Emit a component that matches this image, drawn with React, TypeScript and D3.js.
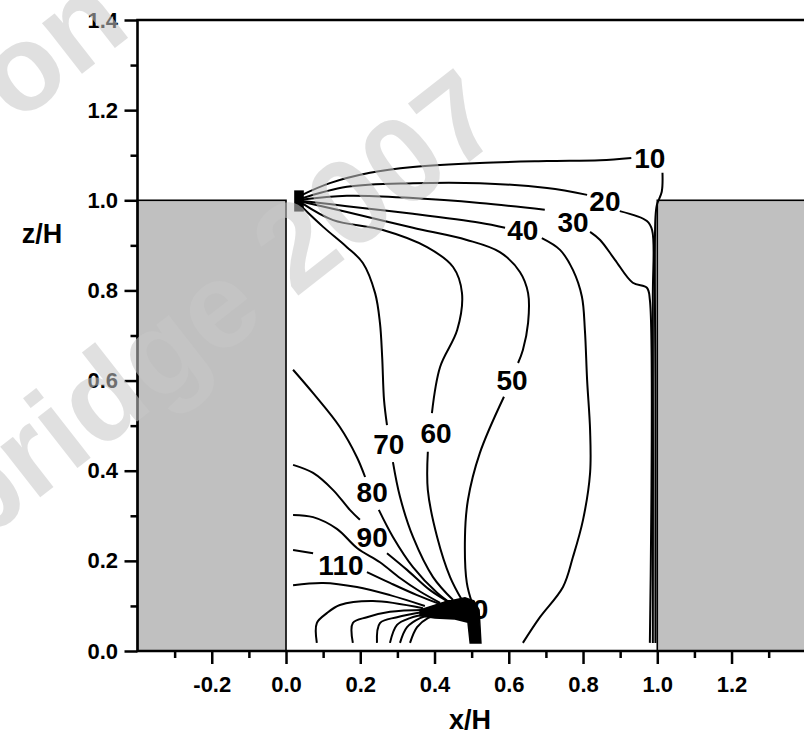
import React, { useEffect, useRef } from "react";
import * as d3 from "d3";

const W = 804;
const H = 736;

// axis ticks
const xMajor = [-0.2, 0, 0.2, 0.4, 0.6, 0.8, 1.0, 1.2];
const xMinor = [-0.3, -0.1, 0.1, 0.3, 0.5, 0.7, 0.9, 1.1, 1.3];
const yMajor = [0, 0.2, 0.4, 0.6, 0.8, 1.0, 1.2, 1.4];
const yMinor = [0.1, 0.3, 0.5, 0.7, 0.9, 1.1, 1.3];

// buildings either side of the canyon (x/H, height z/H)
const buildings = [
  { x0: -0.4, x1: 0, h: 1 },
  { x0: 1.0, x1: 1.4, h: 1 },
];

// iso-concentration lines, [x/H, z/H]; null = gap where the label sits
type P = [number, number] | null;
const c10: P[] = [[0.038, 1.010], [0.118, 1.038], [0.226, 1.061], [0.342, 1.074], [0.522, 1.083], [0.703, 1.087], [0.846, 1.089], [0.930, 1.094], null,
  [1.014, 1.061], [1.012, 1.019], [0.999, 0.990], [0.995, 0.961], [0.995, 0.557], [0.995, 0.018]];
const c20: P[] = [[0.038, 1.003], [0.164, 1.030], [0.342, 1.038], [0.522, 1.038], [0.703, 1.027], [0.811, 1.012], null,
  [0.899, 0.976], [0.972, 0.954], [0.986, 0.934], [0.988, 0.779], [0.988, 0.018]];
const c30: P[] = [[0.038, 1.001], [0.164, 1.010], [0.342, 1.005], [0.522, 0.994], [0.697, 0.979], null,
  [0.819, 0.930], [0.846, 0.912], [0.886, 0.868], [0.934, 0.817], [0.972, 0.806], [0.980, 0.779], [0.980, 0.018]];
const c40: P[] = [[0.038, 0.999], [0.164, 0.987], [0.342, 0.970], [0.522, 0.950], [0.590, 0.939], null,
  [0.689, 0.916], [0.738, 0.890], [0.773, 0.845], [0.797, 0.786], [0.805, 0.712], [0.811, 0.601], [0.819, 0.490],
  [0.819, 0.395], [0.800, 0.291], [0.773, 0.209], [0.746, 0.142], [0.684, 0.075], [0.638, 0.018]];
const c50: P[] = [[0.046, 0.996], [0.164, 0.974], [0.342, 0.939], [0.487, 0.912], [0.576, 0.885], [0.630, 0.841], [0.652, 0.794],
  [0.652, 0.728], [0.638, 0.668], [0.625, 0.639], null,
  [0.587, 0.564], [0.522, 0.439], [0.490, 0.335], [0.482, 0.253], [0.487, 0.151], [0.501, 0.107]];
const c60: P[] = [[0.046, 0.992], [0.127, 0.956], [0.261, 0.934], [0.380, 0.896], [0.450, 0.852], [0.474, 0.794], [0.461, 0.712],
  [0.415, 0.630], [0.393, 0.528], null,
  [0.382, 0.442], [0.382, 0.357], [0.407, 0.253], [0.442, 0.164], [0.474, 0.113]];
const c70: P[] = [[0.043, 0.985], [0.100, 0.941], [0.164, 0.896], [0.207, 0.861], [0.240, 0.794], [0.253, 0.728], [0.259, 0.652],
  [0.264, 0.557], [0.272, 0.501], null,
  [0.288, 0.419], [0.307, 0.342], [0.342, 0.253], [0.396, 0.164], [0.450, 0.113]];
const c80: P[] = [[0.019, 0.624], [0.073, 0.572], [0.145, 0.497], [0.191, 0.430], [0.213, 0.386], null,
  [0.250, 0.313], [0.288, 0.253], [0.342, 0.186], [0.407, 0.129], [0.450, 0.102]];
const c90: P[] = [[0.019, 0.413], [0.073, 0.395], [0.127, 0.357], [0.172, 0.313], [0.199, 0.291], null,
  [0.272, 0.217], [0.326, 0.180], [0.388, 0.135], [0.442, 0.107]];
const c100: P[] = [[0.019, 0.302], [0.073, 0.297], [0.137, 0.271], [0.192, 0.228], [0.253, 0.197], [0.307, 0.162], [0.361, 0.132], [0.415, 0.107]];
const c110: P[] = [[0.019, 0.224], [0.073, 0.217], null, [0.218, 0.175], [0.280, 0.151], [0.353, 0.124], [0.415, 0.104]];
const c120: P[] = [[0.019, 0.146], [0.100, 0.151], [0.191, 0.142], [0.280, 0.124], [0.374, 0.100]];
const a1: P[] = [[0.083, 0.018], [0.083, 0.062], [0.110, 0.084], [0.145, 0.102], [0.234, 0.111], [0.369, 0.095]];
const a2: P[] = [[0.180, 0.018], [0.180, 0.062], [0.218, 0.075], [0.280, 0.087], [0.374, 0.091]];
const a3: P[] = [[0.245, 0.018], [0.253, 0.062], [0.299, 0.075], [0.374, 0.087]];
const a4: P[] = [[0.280, 0.018], [0.299, 0.058], [0.334, 0.073], [0.380, 0.082]];
const a5: P[] = [[0.307, 0.018], [0.326, 0.053], [0.361, 0.073], [0.388, 0.080]];
const a6: P[] = [[0.334, 0.018], [0.353, 0.053], [0.382, 0.073], [0.401, 0.078]];
const contours = [c10, c20, c30, c40, c50, c60, c70, c80, c90, c100, c110, c120, a1, a2, a3, a4, a5, a6];

// dense lines round the ground-level source, drawn as one black patch
const groundSource: [number, number][] = [[0.361, 0.091], [0.428, 0.109], [0.482, 0.118], [0.506, 0.111], [0.520, 0.091], [0.525, 0.018],
  [0.496, 0.018], [0.490, 0.064], [0.455, 0.071], [0.401, 0.073], [0.361, 0.078]];
// dense lines at the roof corner
const roofSource = { x0: 0.022, x1: 0.048, z0: 0.975, z1: 1.022 };

const labels = [
  { t: "10", x: 0.980, z: 1.094 },
  { t: "20", x: 0.859, z: 0.998 },
  { t: "30", x: 0.773, z: 0.952 },
  { t: "40", x: 0.638, z: 0.934 },
  { t: "50", x: 0.609, z: 0.601 },
  { t: "60", x: 0.404, z: 0.484 },
  { t: "70", x: 0.277, z: 0.459 },
  { t: "80", x: 0.232, z: 0.353 },
  { t: "90", x: 0.232, z: 0.253 },
  { t: "110", x: 0.148, z: 0.191 },
  { t: "200", x: 0.482, z: 0.093 },
];

const FONT = "'Liberation Sans', Arial, sans-serif";

export default function App() {
  const ref = useRef<SVGSVGElement>(null);

  useEffect(() => {
    document.body.style.margin = "0";
    const svg = d3.select(ref.current);
    svg.selectAll("*").remove();

    const x = d3.scaleLinear().domain([-0.4, 1.4]).range([137.5, 805.8]);
    const y = d3.scaleLinear().domain([0, 1.4]).range([651, 20]);

    svg.append("rect").attr("width", W).attr("height", H).attr("fill", "#fff");

    svg.append("defs").append("clipPath").attr("id", "plotClip")
      .append("rect")
      .attr("x", x(-0.4)).attr("y", y(1.4))
      .attr("width", x(1.4) - x(-0.4)).attr("height", y(0) - y(1.4));

    // buildings
    svg.selectAll(".bld")
      .data(buildings)
      .enter()
      .append("rect")
      .attr("class", "bld")
      .attr("x", d => x(d.x0))
      .attr("y", d => y(d.h))
      .attr("width", d => x(d.x1) - x(d.x0))
      .attr("height", d => y(0) - y(d.h))
      .attr("fill", "#c0c0c0")
      .attr("stroke", "#000")
      .attr("stroke-width", 1.6);

    const plot = svg.append("g").attr("clip-path", "url(#plotClip)");

    const line = d3.line<P>()
      .defined(d => d !== null)
      .x(d => x(d![0]))
      .y(d => y(d![1]))
      .curve(d3.curveCatmullRom.alpha(0.5));

    plot.selectAll(".iso")
      .data(contours)
      .enter()
      .append("path")
      .attr("class", "iso")
      .attr("d", d => line(d))
      .attr("fill", "none")
      .attr("stroke", "#000")
      .attr("stroke-width", 2)
      .attr("stroke-linejoin", "round");

    plot.append("path")
      .attr("d", d3.line<[number, number]>().x(d => x(d[0])).y(d => y(d[1]))(groundSource) + "Z")
      .attr("fill", "#000")
      .attr("stroke", "#000")
      .attr("stroke-width", 1.5);

    plot.append("rect")
      .attr("x", x(roofSource.x0))
      .attr("y", y(roofSource.z1))
      .attr("width", x(roofSource.x1) - x(roofSource.x0))
      .attr("height", y(roofSource.z0) - y(roofSource.z1))
      .attr("fill", "#000");

    plot.selectAll(".lab")
      .data(labels)
      .enter()
      .append("text")
      .attr("class", "lab")
      .attr("x", d => x(d.x))
      .attr("y", d => y(d.z) + 10)
      .attr("text-anchor", "middle")
      .style("font-family", FONT)
      .style("font-weight", "bold")
      .style("font-size", "28px")
      .text(d => d.t);

    // axes
    const fmt = (d: d3.NumberValue) => (+d).toFixed(1);
    const styleAxis = (g: d3.Selection<SVGGElement, unknown, null, undefined>) => {
      g.select(".domain").remove();
      g.selectAll("line").attr("stroke", "#000").attr("stroke-width", 2.5);
      g.selectAll("text")
        .attr("fill", "#000")
        .style("font-family", FONT)
        .style("font-weight", "bold")
        .style("font-size", "22px");
    };

    svg.append("g")
      .attr("transform", `translate(${x(-0.4)},0)`)
      .call(d3.axisLeft(y).tickValues(yMajor).tickSize(13).tickPadding(6.5).tickFormat(fmt))
      .call(styleAxis);
    svg.append("g")
      .attr("transform", `translate(${x(-0.4)},0)`)
      .call(d3.axisLeft(y).tickValues(yMinor).tickSize(7).tickFormat(() => ""))
      .call(styleAxis);

    svg.append("g")
      .attr("transform", `translate(0,${y(0)})`)
      .call(d3.axisBottom(x).tickValues(xMajor).tickSize(13).tickPadding(12).tickFormat(fmt))
      .call(styleAxis);
    svg.append("g")
      .attr("transform", `translate(0,${y(0)})`)
      .call(d3.axisBottom(x).tickValues(xMinor).tickSize(7).tickFormat(() => ""))
      .call(styleAxis);

    // frame
    svg.append("path")
      .attr("d", `M${x(1.4)},${y(0)}H${x(-0.4)}V${y(1.4)}H${x(1.4)}`)
      .attr("fill", "none")
      .attr("stroke", "#000")
      .attr("stroke-width", 2.6);

    svg.append("text")
      .attr("x", 42).attr("y", 243)
      .attr("text-anchor", "middle")
      .style("font-family", FONT).style("font-weight", "bold").style("font-size", "27px")
      .text("z/H");
    svg.append("text")
      .attr("x", 470).attr("y", 729)
      .attr("text-anchor", "middle")
      .style("font-family", FONT).style("font-weight", "bold").style("font-size", "27px")
      .text("x/H");

    // publisher watermark
    const wm = svg.append("g")
      .attr("fill", "#c8c8c8")
      .attr("opacity", 0.55)
      .style("font-family", FONT)
      .style("font-weight", "bold")
      .style("font-size", "122px")
      .attr("text-anchor", "end");
    wm.append("text").attr("transform", "translate(509,131) rotate(-38)").text("Cambridge 2007");
    wm.append("text").attr("transform", "translate(134,33) rotate(-38)").text("on");
  }, []);

  return (
    <svg
      ref={ref}
      width={W}
      height={H}
      viewBox={`0 0 ${W} ${H}`}
      style={{ display: "block", position: "absolute", left: 0, top: 0 }}
    />
  );
}
